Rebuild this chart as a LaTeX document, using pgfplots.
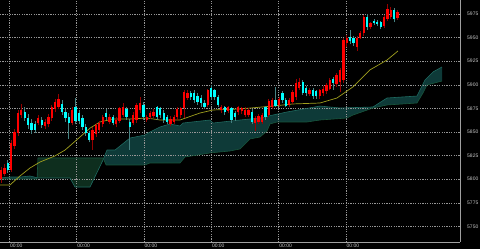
\documentclass[border=0pt]{standalone}
\usepackage{fontspec}
\setmainfont{Liberation Sans}
\usepackage{pgfplots}
\pgfplotsset{compat=1.18}
\usepackage{pgfplotstable}
\usepgfplotslibrary{fillbetween}

\definecolor{bullc}{RGB}{255,0,0}
\definecolor{bearc}{RGB}{0,255,255}
\definecolor{bullwick}{RGB}{150,0,0}
\definecolor{bearwick}{RGB}{70,130,130}
\definecolor{mac}{RGB}{160,160,30}
\definecolor{cloudA}{RGB}{14,58,56}
\definecolor{cloudB}{RGB}{14,46,30}
\definecolor{spanAc}{RGB}{30,105,95}
\definecolor{spanBc}{RGB}{25,85,60}
\definecolor{gridc}{RGB}{150,150,150}
\definecolor{axc}{RGB}{160,160,160}
\definecolor{labc}{RGB}{200,200,200}

\pgfplotstableread{
i o h l c
0 5800 5813 5796 5810
1 5806 5816 5803 5812
3 5810 5842 5808 5838
4 5835 5853 5832 5850
5 5849 5873 5846 5870
6 5868 5880 5865 5873
11 5860 5868 5857 5865
13 5856 5864 5853 5861
14 5858 5869 5855 5866
15 5865 5879 5862 5876
16 5874 5885 5871 5882
17 5877 5890 5874 5885
21 5860 5876 5857 5873
27 5841 5855 5831 5852
28 5848 5860 5845 5857
29 5852 5862 5849 5860
30 5858 5868 5855 5866
32 5861 5869 5858 5866
34 5858 5866 5855 5863
35 5862 5877 5860 5875
36 5868 5881 5866 5876
39 5860 5871 5857 5868
40 5863 5881 5860 5879
41 5873 5887 5870 5881
43 5863 5868 5861 5866
44 5866 5872 5864 5870
45 5867 5874 5865 5871
50 5859 5867 5856 5864
51 5861 5868 5858 5866
52 5866 5876 5863 5874
53 5868 5877 5865 5875
54 5875 5894 5865 5892
55 5886 5894 5884 5891
61 5879 5896 5876 5894
65 5873 5879 5870 5876
67 5872 5878 5870 5876
70 5871 5878 5868 5876
71 5872 5877 5869 5875
72 5868 5876 5866 5873
73 5868 5875 5866 5873
75 5860 5867 5851 5865
76 5861 5869 5858 5867
77 5861 5870 5859 5868
79 5868 5885 5866 5883
80 5876 5886 5874 5884
82 5879 5887 5877 5885
85 5879 5886 5877 5884
86 5882 5894 5880 5892
87 5887 5906 5884 5902
88 5897 5907 5895 5903
91 5890 5897 5888 5895
94 5888 5896 5885 5894
95 5891 5899 5888 5896
96 5893 5902 5890 5900
97 5896 5907 5894 5905
99 5901 5913 5898 5910
100 5903 5918 5892 5916
101 5905 5950 5902 5947
102 5944 5953 5940 5950
105 5940 5952 5936 5950
106 5950 5957 5948 5955
107 5955 5974 5952 5972
109 5961 5967 5959 5965
113 5962 5974 5960 5972
114 5970 5986 5968 5980
115 5972 5982 5970 5979
117 5971 5979 5969 5977
}\bulltab

\pgfplotstableread{
i o h l c
2 5817 5820 5807 5810
7 5871 5876 5862 5865
8 5865 5869 5853 5857
9 5860 5864 5848 5852
10 5858 5862 5849 5852
12 5863 5866 5854 5857
18 5880 5884 5868 5871
19 5871 5874 5861 5865
20 5866 5870 5843 5860
22 5876 5886 5858 5862
23 5870 5873 5858 5862
24 5865 5868 5852 5855
25 5855 5858 5846 5849
26 5849 5851 5839 5842
31 5870 5874 5863 5866
33 5866 5868 5857 5860
37 5874 5877 5863 5866
38 5861 5864 5831 5855
42 5879 5882 5863 5866
46 5876 5878 5863 5866
47 5875 5877 5865 5868
48 5870 5873 5860 5863
49 5866 5868 5858 5861
56 5891 5893 5884 5887
57 5891 5894 5881 5884
58 5888 5891 5879 5882
59 5886 5889 5877 5881
60 5881 5884 5874 5877
62 5897 5900 5884 5887
63 5894 5896 5884 5887
64 5887 5889 5876 5879
66 5876 5878 5868 5871
68 5875 5877 5860 5863
69 5870 5872 5862 5866
74 5871 5874 5858 5861
78 5876 5878 5863 5866
81 5884 5898 5876 5878
83 5891 5893 5881 5884
84 5884 5886 5876 5878
89 5903 5905 5889 5891
90 5897 5899 5888 5891
92 5895 5897 5885 5888
93 5893 5895 5885 5888
98 5906 5908 5895 5902
103 5951 5958 5943 5946
104 5950 5952 5941 5944
108 5972 5975 5958 5961
110 5968 5970 5963 5965
111 5967 5969 5962 5964
112 5966 5968 5959 5961
116 5979 5981 5966 5970
}\beartab

\pgfplotstableread{
i p
-0.3 5793.9
2.65 5793.9
5.6 5803.4
8.55 5811.9
11.5 5818.2
15.9 5824.6
18.9 5830.9
23.3 5844.7
26.3 5854.2
29.2 5860.6
33.0 5863.8
38.1 5863.8
43.1 5864.8
46.9 5862.7
52.8 5862.7
58.7 5870.1
62.5 5873.3
70.5 5874.4
80.2 5877.5
86.1 5879.7
94.1 5880.7
99.1 5886.0
103.8 5897.7
108.8 5915.7
113.9 5926.3
117.1 5935.8
}\matab

\pgfplotstableread{
i p
-0.29 5801.3
2.65 5802.3
5.6 5802.3
8.55 5803.4
10.91 5801.3
20.35 5801.3
21.83 5791.7
26.25 5791.7
30.09 5820.3
31.27 5830.9
33.63 5830.9
38.05 5843.6
42.48 5846.8
43.95 5850.0
46.9 5855.3
49.85 5858.5
52.8 5856.4
53.69 5859.5
61.65 5862.7
62.54 5859.5
70.5 5862.7
76.4 5864.8
80.24 5868.0
84.37 5871.2
94.1 5877.5
100.0 5875.4
109.73 5876.5
113.86 5886.0
122.71 5888.1
125.07 5905.1
127.43 5913.6
130.09 5918.9
}\spanAtab

\pgfplotstableread{
i p
-0.29 5800.2
10.62 5800.2
10.91 5822.5
30.09 5822.5
31.0 5815.1
42.48 5815.1
43.95 5817.2
52.8 5817.2
54.28 5823.5
61.65 5827.8
67.55 5829.9
70.5 5832.0
73.45 5842.6
76.4 5844.7
78.47 5851.1
79.35 5858.5
81.42 5860.6
90.27 5860.6
94.1 5862.7
102.06 5864.8
103.83 5868.0
109.73 5875.4
113.86 5878.6
122.71 5880.7
124.48 5891.3
125.66 5899.8
130.09 5904.0
}\spanBtab

\pgfplotstableread{
i p
10.91 5801.3
20.35 5801.3
21.83 5791.7
26.25 5791.7
30.09 5820.3
}\greenAtab

\pgfplotstableread{
i p
10.91 5822.5
30.09 5822.5
}\greenBtab

\begin{document}
\begin{tikzpicture}
\begin{axis}[
  at={(0pt,0pt)}, anchor=south west,
  scale only axis, width=460pt, height=242pt,
  xmin=-0.295, xmax=135.4, ymin=5733.5, ymax=5989.8,
  clip=false, set layers,
  axis x line*=bottom, axis y line*=right,
  axis line style={draw=axc, line width=0.8pt, -},
  xtick={2.45,22.33,42.18,62.04,81.92,101.77},
  xticklabels={00:00,00:00,00:00,00:00,00:00,00:00},
  ytick={5750,5775,5800,5825,5850,5875,5900,5925,5950,5975},
  grid=major,
  major grid style={draw=gridc, dash pattern=on 1.2pt off 1.2pt, line width=0.5pt},
  major tick length=0pt,
  tick label style={font=\fontsize{5}{6}\selectfont, text=labc},
  xticklabel style={anchor=north west, inner sep=0.5pt, yshift=-1.2pt},
  yticklabel style={anchor=west, xshift=7pt, inner sep=0pt},
  /pgf/number format/.cd, 1000 sep={}, assume math mode=true
]
\begin{pgfonlayer}{axis background}
\fill[black] ([yshift=-7pt]rel axis cs:0,0) rectangle ([xshift=20pt]rel axis cs:1,1);
\end{pgfonlayer}
\addplot[name path=A, draw=spanAc, line width=0.6pt] table[x=i,y=p] {\spanAtab};
\addplot[name path=B, draw=spanBc, line width=0.6pt] table[x=i,y=p] {\spanBtab};
\addplot[draw=none, name path=GA] table[x=i,y=p] {\greenAtab};
\addplot[draw=none, name path=GB] table[x=i,y=p] {\greenBtab};
\addplot[cloudA] fill between[of=A and B, on layer=axis background];
\addplot[cloudB] fill between[of=GA and GB, on layer=axis background];

\addplot[draw=mac, line width=0.7pt] table[x=i,y=p] {\matab};

\addplot[draw=bullwick, line width=0.7pt, quiver={u=0, v=\thisrow{h}-\thisrow{l}}] table[x=i,y=l] {\bulltab};
\addplot[draw=bearwick, line width=0.7pt, quiver={u=0, v=\thisrow{h}-\thisrow{l}}] table[x=i,y=l] {\beartab};
\addplot[draw=bullc, line width=2.3pt, quiver={u=0, v=\thisrow{c}-\thisrow{o}}] table[x=i,y=o] {\bulltab};
\addplot[draw=bearc, line width=2.3pt, quiver={u=0, v=\thisrow{c}-\thisrow{o}}] table[x=i,y=o] {\beartab};
\end{axis}
\pgfresetboundingbox
\useasboundingbox (0pt,-7pt) rectangle (480pt,242pt);
\end{tikzpicture}
\end{document}
